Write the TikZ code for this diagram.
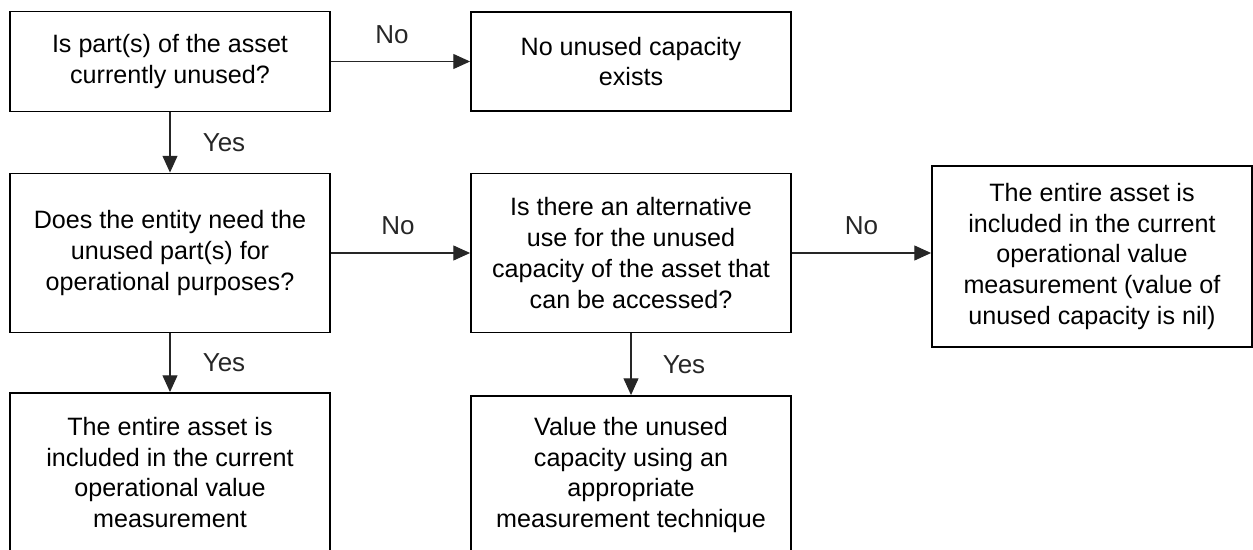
\documentclass[tikz,border=0pt]{standalone}
\usepackage{fontspec}
\setmainfont{Liberation Sans}
\usepackage{tikz}
\usetikzlibrary{arrows.meta}

\tikzset{
  box/.style={draw, line width=1.1pt, minimum width=6.4cm, inner sep=0pt, align=center,
              font=\fontsize{14.3}{17.6}\selectfont},
  lbl/.style={font=\fontsize{14.8}{16}\selectfont},
  flow/.style={-{Triangle[length=9.5pt,width=8.5pt]}, line width=0.6pt, black!85}
}

\begin{document}
\begin{tikzpicture}[x=0.02cm, y=-0.02cm]
                \useasboundingbox (0,0) rectangle (1253,550);
                \clip (0,0) rectangle (1253,550);
                \node [box, minimum height=2cm] (used) at (170,61.5) {Is part(s) of the asset\\currently unused?};
                \node [box, minimum height=1.98cm] (none) at (631,61.5) {No unused capacity\\exists};
                \node [box, minimum height=3.18cm] (need) at (170,253) {Does the entity need the\\unused part(s) for\\operational purposes?};
                \node [box, minimum height=3.18cm] (alt) at (631,253) {Is there an alternative\\use for the unused\\capacity of the asset that\\can be accessed?};
                \node [box, minimum height=3.62cm] (nil) at (1092,256.5) {The entire asset is\\included in the current\\operational value\\measurement (value of\\unused capacity is nil)};
                \node [box, minimum height=3.18cm] (whole) at (170,472.5) {The entire asset is\\included in the current\\operational value\\measurement};
                \node [box, minimum height=3.16cm] (value) at (631,475) {Value the unused\\capacity using an\\appropriate\\measurement technique};
                \draw [flow] (used) -- node [lbl, pos=0.5, xshift=-0.17cm, yshift=0.54cm]{No} (none);
                \draw [flow] (used) -- node [lbl, pos=0.5, xshift=1.08cm]{Yes} (need);
                \draw [flow] (need) -- node [lbl, pos=0.5, xshift=-0.05cm, yshift=0.54cm]{No} (alt);
                \draw [flow] (alt) -- node [lbl, pos=0.5, yshift=0.54cm]{No} (alt -| nil.west);
                \draw [flow] (need) -- node [lbl, pos=0.5, xshift=1.08cm]{Yes} (whole);
                \draw [flow] (alt) -- node [lbl, pos=0.5, xshift=1.06cm]{Yes} (value);
            \end{tikzpicture}
\end{document}
